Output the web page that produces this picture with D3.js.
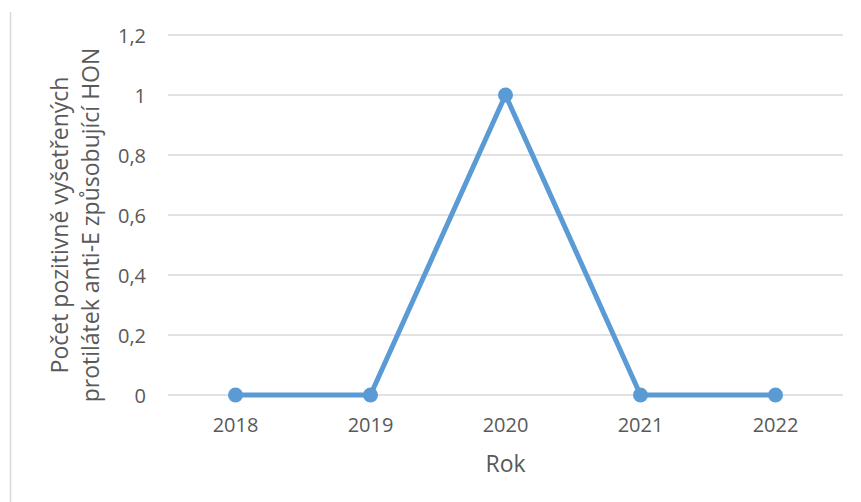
<!DOCTYPE html>
<html>
<head>
<meta charset="utf-8">
<script src="https://cdn.jsdelivr.net/npm/d3@7"></script>
<style>
  html, body { margin: 0; padding: 0; background: #fff; }
  svg { display: block; font-family: "Open Sans", "Noto Sans", sans-serif; }
</style>
</head>
<body>
<svg id="chart" width="861" height="502"></svg>
<script>
// Positive anti-E antibodies causing HDN, by year
const years = ["2018", "2019", "2020", "2021", "2022"];
const counts = [0, 0, 1, 0, 0];
const yTicks = [0, 0.2, 0.4, 0.6, 0.8, 1, 1.2];
const xTitle = "Rok";
const yTitleLines = ["Počet pozitivně vyšetřených", "protilátek anti-E způsobující HON"];

const svg = d3.select("#chart");
const margin = { left: 168, right: 843, top: 35, bottom: 395 };
const textColor = "#595959";

const x = d3.scaleBand().domain(years).range([margin.left, margin.right]);
const y = d3.scaleLinear().domain([0, 1.2]).range([margin.bottom, margin.top]);

// frame line on the left
svg.append("line")
  .attr("x1", 10.5).attr("x2", 10.5).attr("y1", 12).attr("y2", 502)
  .attr("stroke", "#d9d9d9").attr("stroke-width", 1.5);

// gridlines
svg.append("g").selectAll("line").data(yTicks).join("line")
  .attr("x1", margin.left).attr("x2", margin.right)
  .attr("y1", d => y(d)).attr("y2", d => y(d))
  .attr("stroke", "#d9d9d9").attr("stroke-width", 1.3);

const fmt = d => String(+d.toFixed(1)).replace(".", ",");

// y axis labels
const yAxis = d3.axisLeft(y).tickValues(yTicks).tickFormat(fmt).tickSize(0).tickPadding(0);
const gy = svg.append("g").attr("transform", `translate(146,0)`).call(yAxis);
gy.select(".domain").remove();
gy.selectAll("text").attr("font-size", 20).attr("fill", textColor)
  .attr("font-family", "'Open Sans', sans-serif").attr("dy", "0.36em");

// x axis labels
const xAxis = d3.axisBottom(x).tickSize(0).tickPadding(0);
const gx = svg.append("g").attr("transform", `translate(0,432)`).call(xAxis);
gx.select(".domain").remove();
gx.selectAll("text").attr("font-size", 20).attr("fill", textColor)
  .attr("font-family", "'Open Sans', sans-serif").attr("dy", 0);

// axis titles
svg.append("text")
  .attr("x", (margin.left + margin.right) / 2).attr("y", 472)
  .attr("text-anchor", "middle").attr("font-size", 23).attr("fill", textColor)
  .text(xTitle);

const yt = svg.append("text")
  .attr("transform", `translate(68,225) rotate(-90)`)
  .attr("text-anchor", "middle").attr("font-size", 23).attr("fill", textColor);
yTitleLines.forEach((t, i) => {
  yt.append("tspan").attr("x", 0).attr("dy", i === 0 ? 0 : 31).text(t);
});

// series line and markers
const cx = d => x(d) + x.bandwidth() / 2;
const line = d3.line().x((d, i) => cx(years[i])).y(d => y(d));
svg.append("path").datum(counts)
  .attr("d", line).attr("fill", "none")
  .attr("stroke", "#5b9bd5").attr("stroke-width", 5).attr("stroke-linejoin", "round");

svg.append("g").selectAll("circle").data(counts).join("circle")
  .attr("cx", (d, i) => cx(years[i])).attr("cy", d => y(d)).attr("r", 7.5)
  .attr("fill", "#5b9bd5");
</script>
</body>
</html>
